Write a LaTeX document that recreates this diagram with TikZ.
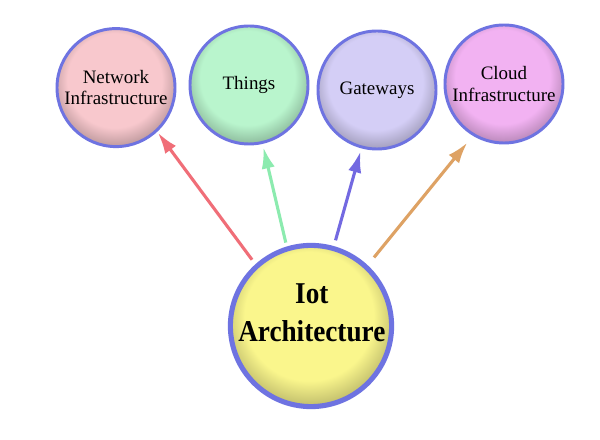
\documentclass[tikz,border=0pt]{standalone}
\usepackage{fontspec}
\setmainfont{Liberation Serif}
\newfontfamily\hubfont[FakeStretch=0.9]{Liberation Serif}
\usetikzlibrary{arrows.meta}
\definecolor{ringblue}{RGB}{110,115,225}
\definecolor{netpink}{RGB}{248,200,205}
\definecolor{thinggreen}{RGB}{185,245,205}
\definecolor{gatelilac}{RGB}{212,206,246}
\definecolor{cloudmagenta}{RGB}{242,178,242}
\definecolor{hubyellow}{RGB}{250,246,140}
\definecolor{arrowred}{RGB}{240,110,120}
\definecolor{arrowgreen}{RGB}{140,235,175}
\definecolor{arrowblue}{RGB}{115,105,225}
\definecolor{arroworange}{RGB}{222,162,100}
\colorlet{orbin}{white}
\colorlet{orbout}{gray}
\pgfdeclareradialshading[orbin,orbout]{orb}{\pgfpoint{-1bp}{5bp}}{color(0bp)=(orbin); color(20bp)=(orbin); color(30bp)=(orbout); color(50bp)=(orbout)}
\tikzset{
	orbfill/.code={\colorlet{orbin}{#1}\colorlet{orbout}{#1!68!black}},
	bubble/.style={circle,draw=ringblue,line width=2.1pt,orbfill=#1,shading=orb,inner sep=0pt,minimum size=2.95cm,align=center,font=\fontsize{13.5}{15}\selectfont},
	hub/.style={circle,draw=ringblue,line width=3.6pt,orbfill=#1,shading=orb,inner sep=0pt,minimum size=4.03cm},
	hubtext/.style={align=center,font=\hubfont\bfseries\fontsize{21.5}{27.5}\selectfont},
	link/.style={line width=2.2pt,-{Latex[length=15pt,width=9.5pt]}}
}
\begin{document}
\begin{tikzpicture}
		\useasboundingbox[fill=white] (0,0) rectangle (15,11);
		\node[bubble=netpink] (net) at (2.9,8.81) {Network\\Infrastructure};
		\node[bubble=thinggreen] (things) at (6.225,8.875) {Things};
		\node[bubble=gatelilac] (gate) at (9.425,8.75) {Gateways};
		\node[bubble=cloudmagenta] (cloud) at (12.6,8.9) {Cloud\\Infrastructure};
		\node[hub=hubyellow] (iot) at (7.775,2.85) {};
		\node[hubtext] (iottext) at ([xshift=0.02cm,yshift=0.33cm]iot.center) {Iot\\Architecture};
		\draw[link,color=arrowred,shorten <=0.14cm,shorten >=0.03cm] (iot.132) -- (net.-47);
		\draw[link,color=arrowgreen,shorten <=0.1cm,shorten >=0.09cm] (iot.107) -- (things.-77);
		\draw[link,color=arrowblue,shorten <=0.15cm,shorten >=0.08cm] (iot.74) -- (gate.-105);
		\draw[link,color=arroworange,shorten <=0.25cm,shorten >=0.22cm] (iot.47) -- (cloud.-121);
	\end{tikzpicture}
\end{document}
